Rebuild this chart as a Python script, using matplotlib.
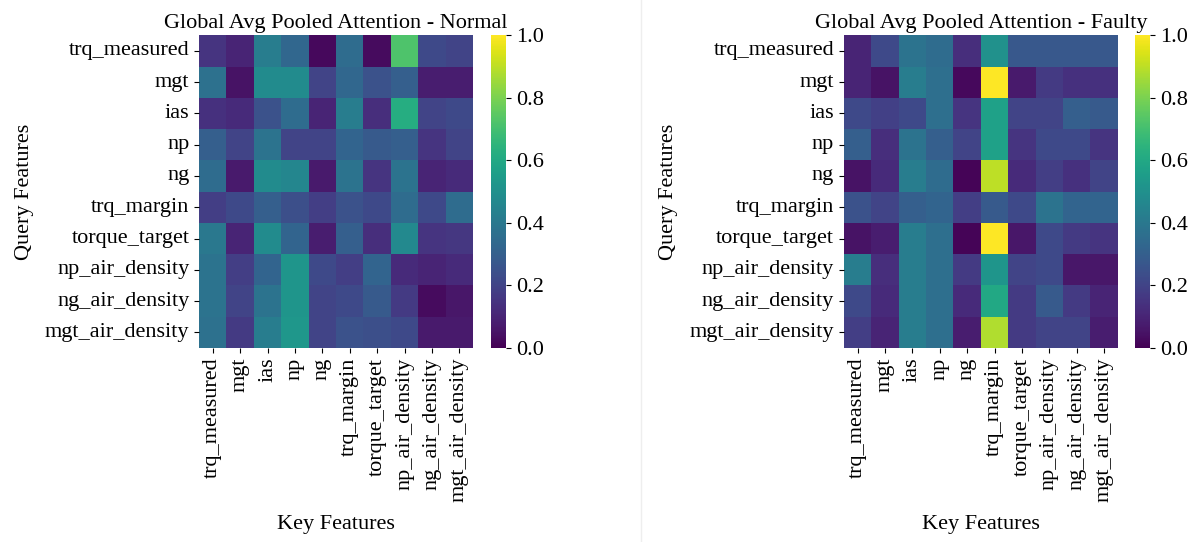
import numpy as np
import matplotlib
matplotlib.use("Agg")
import matplotlib.pyplot as plt
import seaborn as sns

features = ["trq_measured", "mgt", "ias", "np", "ng", "trq_margin",
            "torque_target", "np_air_density", "ng_air_density", "mgt_air_density"]

normal = np.array([
    [0.15, 0.10, 0.42, 0.33, 0.02, 0.35, 0.03, 0.72, 0.22, 0.20],
    [0.37, 0.05, 0.48, 0.48, 0.20, 0.33, 0.25, 0.30, 0.08, 0.08],
    [0.14, 0.12, 0.25, 0.35, 0.10, 0.42, 0.13, 0.62, 0.20, 0.22],
    [0.30, 0.20, 0.38, 0.20, 0.20, 0.32, 0.28, 0.30, 0.15, 0.20],
    [0.35, 0.07, 0.48, 0.46, 0.07, 0.38, 0.15, 0.38, 0.10, 0.12],
    [0.18, 0.22, 0.30, 0.24, 0.18, 0.25, 0.22, 0.35, 0.22, 0.35],
    [0.40, 0.10, 0.48, 0.32, 0.08, 0.30, 0.13, 0.47, 0.15, 0.16],
    [0.38, 0.18, 0.32, 0.52, 0.22, 0.18, 0.32, 0.12, 0.10, 0.12],
    [0.38, 0.20, 0.38, 0.52, 0.20, 0.22, 0.28, 0.17, 0.03, 0.06],
    [0.37, 0.17, 0.42, 0.53, 0.20, 0.25, 0.24, 0.22, 0.07, 0.07],
])

faulty = np.array([
    [0.10, 0.22, 0.38, 0.35, 0.13, 0.50, 0.27, 0.27, 0.27, 0.27],
    [0.10, 0.05, 0.42, 0.36, 0.02, 1.00, 0.07, 0.17, 0.14, 0.14],
    [0.22, 0.19, 0.22, 0.36, 0.15, 0.57, 0.20, 0.20, 0.30, 0.28],
    [0.30, 0.13, 0.38, 0.30, 0.20, 0.57, 0.15, 0.22, 0.22, 0.15],
    [0.05, 0.12, 0.42, 0.35, 0.01, 0.90, 0.12, 0.18, 0.14, 0.20],
    [0.25, 0.20, 0.30, 0.32, 0.18, 0.28, 0.22, 0.38, 0.32, 0.32],
    [0.05, 0.08, 0.42, 0.36, 0.01, 1.00, 0.06, 0.22, 0.17, 0.15],
    [0.42, 0.13, 0.42, 0.36, 0.17, 0.52, 0.20, 0.22, 0.06, 0.06],
    [0.22, 0.12, 0.42, 0.36, 0.12, 0.60, 0.17, 0.28, 0.17, 0.10],
    [0.18, 0.10, 0.42, 0.36, 0.08, 0.88, 0.17, 0.20, 0.20, 0.08],
])

plt.rcParams["font.family"] = ["Liberation Serif", "DejaVu Serif"]
plt.rcParams["font.size"] = 16

fig = plt.figure(figsize=(12.02, 5.42), dpi=100)

panels = [
    (normal, "Global Avg Pooled Attention - Normal", 0.1656, 0.4085),
    (faulty, "Global Avg Pooled Attention - Faulty", 0.702, 0.9445),
]

for data, title, left, cb_left in panels:
    ax = fig.add_axes([left, 0.358, 0.228, 0.577])
    cax = fig.add_axes([cb_left, 0.358, 0.0125, 0.577])
    sns.heatmap(data, ax=ax, cbar_ax=cax, cmap="viridis", vmin=0, vmax=1,
                xticklabels=features, yticklabels=features)
    ax.set_title(title, fontsize=16, pad=5)
    ax.set_xlabel("Key Features", fontsize=16, labelpad=9)
    ax.set_ylabel("Query Features", fontsize=16, labelpad=8)
    ax.tick_params(axis="x", rotation=90, labelsize=16)
    ax.tick_params(axis="y", rotation=0, labelsize=16)
    cax.tick_params(labelsize=16)

# faint divider between the two panels
fig.add_artist(plt.Line2D([0.533, 0.533], [0.0, 1.0], color="#eeeeee", lw=1))

plt.savefig("out.png", dpi=100)
plt.close()
